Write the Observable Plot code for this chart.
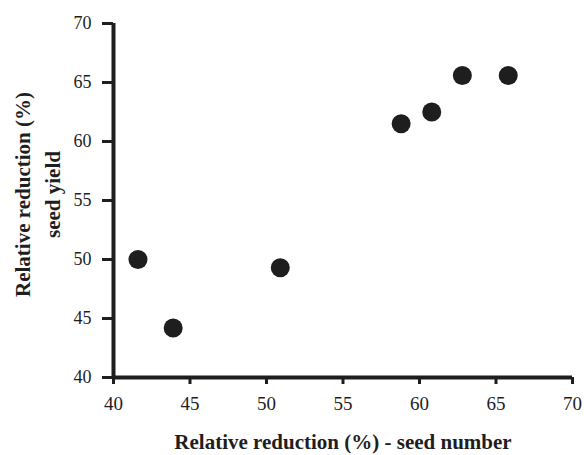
<!DOCTYPE html>
<html>
<head>
<meta charset="utf-8">
<script src="https://cdn.jsdelivr.net/npm/d3@7"></script>
<script src="https://cdn.jsdelivr.net/npm/@observablehq/plot@0.6"></script>
<style>
  html, body { margin: 0; padding: 0; background: #fff; }
</style>
</head>
<body>
<div id="chart"></div>
<script>
// Data
const seedNumber = [41.6, 43.9, 50.9, 58.8, 60.8, 62.8, 65.8];
const seedYield  = [50.0, 44.2, 49.3, 61.5, 62.5, 65.6, 65.6];
const xTicks = [40, 45, 50, 55, 60, 65, 70];
const yTicks = [40, 45, 50, 55, 60, 65, 70];
const xTitle = ["Relative reduction (%) - seed number"];
const yTitle = ["Relative reduction (%)\nseed yield"];

const data = seedNumber.map((x, i) => ({x, y: seedYield[i]}));

const chart = Plot.plot({
  width: 584,
  height: 455,
  marginLeft: 113,
  marginRight: 12,
  marginTop: 23,
  marginBottom: 78,
  style: {fontFamily: "'Liberation Serif', 'Times New Roman', serif", background: "#fff", color: "#1e1e1e"},
  x: {domain: [40, 70]},
  y: {domain: [40, 70]},
  marks: [
    Plot.axisX({ticks: xTicks, tickSize: 7, tickPadding: 12, strokeWidth: 3, fontSize: 19, label: null}),
    Plot.axisY({ticks: yTicks, tickSize: 11, tickPadding: 11, strokeWidth: 3, fontSize: 18, label: null}),
    Plot.ruleY([40], {strokeWidth: 4, stroke: "#1e1e1e"}),
    Plot.ruleX([40], {strokeWidth: 4, stroke: "#1e1e1e"}),
    Plot.dot(data, {x: "x", y: "y", r: 9.5, fill: "#1e1e1e", stroke: null}),
    Plot.text(xTitle, {frameAnchor: "bottom", dy: 65, text: d => d, fontSize: 21, fontWeight: "bold", textAnchor: "middle", lineAnchor: "middle", fill: "#1e1e1e"}),
    Plot.text(yTitle, {frameAnchor: "left", dx: -78, dy: -6, rotate: -90, text: d => d, fontSize: 21, fontWeight: "bold", textAnchor: "middle", lineAnchor: "middle", lineHeight: 1.43, fill: "#1e1e1e"})
  ]
});
document.getElementById("chart").appendChild(chart);
</script>
</body>
</html>
